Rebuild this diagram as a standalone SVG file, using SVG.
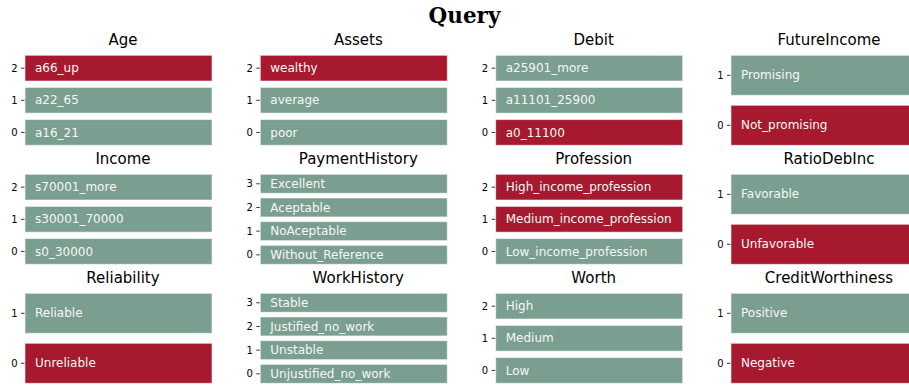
<svg xmlns="http://www.w3.org/2000/svg" width="909" height="386" viewBox="0 0 909 386">
<style>
.g{fill:#7a9e8f;stroke:#ffffff;stroke-opacity:0.55;stroke-width:1}
.r{fill:#a6192e;stroke:#ffffff;stroke-opacity:0.55;stroke-width:1}
.lb{font-family:"DejaVu Sans",sans-serif;font-size:12px;fill:#f7f7f7}
.tk{font-family:"DejaVu Sans",sans-serif;font-size:10px;fill:#000;text-anchor:end}
.tm{stroke:#000;stroke-width:0.8}
.tt{font-family:"DejaVu Sans",sans-serif;font-size:15px;fill:#000;text-anchor:middle}
.hd{font-family:"DejaVu Serif",serif;font-size:21.5px;font-weight:bold;fill:#000;text-anchor:middle}
</style>
<rect width="909" height="386" fill="#ffffff"/>
<text class="hd" x="464.5" y="22.5">Query</text>

<g id="Age" transform="translate(25,55.3)">
<text class="tt" x="98" y="-10.3">Age</text>
<rect class="r" x="0" y="0" width="187" height="25.7"/>
<rect class="g" x="0" y="32.14" width="187" height="25.7"/>
<rect class="g" x="0" y="64.29" width="187" height="25.7"/>
<text class="lb" x="10" y="17.1">a66_up</text>
<text class="lb" x="10" y="49.2">a22_65</text>
<text class="lb" x="10" y="81.3">a16_21</text>
<text class="tk" x="-7.5" y="16.5">2</text><line class="tm" x1="-4" y1="12.86" x2="-0.5" y2="12.86"/>
<text class="tk" x="-7.5" y="48.6">1</text><line class="tm" x1="-4" y1="45" x2="-0.5" y2="45"/>
<text class="tk" x="-7.5" y="80.8">0</text><line class="tm" x1="-4" y1="77.14" x2="-0.5" y2="77.14"/>
</g>

<g id="Assets" transform="translate(260.3,55.3)">
<text class="tt" x="98" y="-10.3">Assets</text>
<rect class="r" x="0" y="0" width="187" height="25.7"/>
<rect class="g" x="0" y="32.14" width="187" height="25.7"/>
<rect class="g" x="0" y="64.29" width="187" height="25.7"/>
<text class="lb" x="10" y="17.1">wealthy</text>
<text class="lb" x="10" y="49.2">average</text>
<text class="lb" x="10" y="81.3">poor</text>
<text class="tk" x="-7.5" y="16.5">2</text><line class="tm" x1="-4" y1="12.86" x2="-0.5" y2="12.86"/>
<text class="tk" x="-7.5" y="48.6">1</text><line class="tm" x1="-4" y1="45" x2="-0.5" y2="45"/>
<text class="tk" x="-7.5" y="80.8">0</text><line class="tm" x1="-4" y1="77.14" x2="-0.5" y2="77.14"/>
</g>

<g id="Debit" transform="translate(495.7,55.3)">
<text class="tt" x="98" y="-10.3">Debit</text>
<rect class="g" x="0" y="0" width="187" height="25.7"/>
<rect class="g" x="0" y="32.14" width="187" height="25.7"/>
<rect class="r" x="0" y="64.29" width="187" height="25.7"/>
<text class="lb" x="10" y="17.1">a25901_more</text>
<text class="lb" x="10" y="49.2">a11101_25900</text>
<text class="lb" x="10" y="81.3">a0_11100</text>
<text class="tk" x="-7.5" y="16.5">2</text><line class="tm" x1="-4" y1="12.86" x2="-0.5" y2="12.86"/>
<text class="tk" x="-7.5" y="48.6">1</text><line class="tm" x1="-4" y1="45" x2="-0.5" y2="45"/>
<text class="tk" x="-7.5" y="80.8">0</text><line class="tm" x1="-4" y1="77.14" x2="-0.5" y2="77.14"/>
</g>

<g id="FutureIncome" transform="translate(731,55.3)">
<text class="tt" x="98" y="-10.3">FutureIncome</text>
<rect class="g" x="0" y="0" width="187" height="40"/>
<rect class="r" x="0" y="50" width="187" height="40"/>
<text class="lb" x="10" y="24.2">Promising</text>
<text class="lb" x="10" y="74.2">Not_promising</text>
<text class="tk" x="-7.5" y="23.6">1</text><line class="tm" x1="-4" y1="20" x2="-0.5" y2="20"/>
<text class="tk" x="-7.5" y="73.6">0</text><line class="tm" x1="-4" y1="70" x2="-0.5" y2="70"/>
</g>

<g id="Income" transform="translate(25,174.3)">
<text class="tt" x="98" y="-10.3">Income</text>
<rect class="g" x="0" y="0" width="187" height="25.7"/>
<rect class="g" x="0" y="32.14" width="187" height="25.7"/>
<rect class="g" x="0" y="64.29" width="187" height="25.7"/>
<text class="lb" x="10" y="17.1">s70001_more</text>
<text class="lb" x="10" y="49.2">s30001_70000</text>
<text class="lb" x="10" y="81.3">s0_30000</text>
<text class="tk" x="-7.5" y="16.5">2</text><line class="tm" x1="-4" y1="12.86" x2="-0.5" y2="12.86"/>
<text class="tk" x="-7.5" y="48.6">1</text><line class="tm" x1="-4" y1="45" x2="-0.5" y2="45"/>
<text class="tk" x="-7.5" y="80.8">0</text><line class="tm" x1="-4" y1="77.14" x2="-0.5" y2="77.14"/>
</g>

<g id="PaymentHistory" transform="translate(260.3,174.3)">
<text class="tt" x="98" y="-10.3">PaymentHistory</text>
<rect class="g" x="0" y="0" width="187" height="18.95"/>
<rect class="g" x="0" y="23.68" width="187" height="18.95"/>
<rect class="g" x="0" y="47.37" width="187" height="18.95"/>
<rect class="g" x="0" y="71.05" width="187" height="18.95"/>
<text class="lb" x="10" y="13.7">Excellent</text>
<text class="lb" x="10" y="37.4">Aceptable</text>
<text class="lb" x="10" y="61.0">NoAceptable</text>
<text class="lb" x="10" y="84.7">Without_Reference</text>
<text class="tk" x="-7.5" y="13.1">3</text><line class="tm" x1="-4" y1="9.47" x2="-0.5" y2="9.47"/>
<text class="tk" x="-7.5" y="36.8">2</text><line class="tm" x1="-4" y1="33.16" x2="-0.5" y2="33.16"/>
<text class="tk" x="-7.5" y="60.5">1</text><line class="tm" x1="-4" y1="56.84" x2="-0.5" y2="56.84"/>
<text class="tk" x="-7.5" y="84.2">0</text><line class="tm" x1="-4" y1="80.53" x2="-0.5" y2="80.53"/>
</g>

<g id="Profession" transform="translate(495.7,174.3)">
<text class="tt" x="98" y="-10.3">Profession</text>
<rect class="r" x="0" y="0" width="187" height="25.7"/>
<rect class="r" x="0" y="32.14" width="187" height="25.7"/>
<rect class="g" x="0" y="64.29" width="187" height="25.7"/>
<text class="lb" x="10" y="17.1">High_income_profession</text>
<text class="lb" x="10" y="49.2">Medium_income_profession</text>
<text class="lb" x="10" y="81.3">Low_income_profession</text>
<text class="tk" x="-7.5" y="16.5">2</text><line class="tm" x1="-4" y1="12.86" x2="-0.5" y2="12.86"/>
<text class="tk" x="-7.5" y="48.6">1</text><line class="tm" x1="-4" y1="45" x2="-0.5" y2="45"/>
<text class="tk" x="-7.5" y="80.8">0</text><line class="tm" x1="-4" y1="77.14" x2="-0.5" y2="77.14"/>
</g>

<g id="RatioDebInc" transform="translate(731,174.3)">
<text class="tt" x="98" y="-10.3">RatioDebInc</text>
<rect class="g" x="0" y="0" width="187" height="40"/>
<rect class="r" x="0" y="50" width="187" height="40"/>
<text class="lb" x="10" y="24.2">Favorable</text>
<text class="lb" x="10" y="74.2">Unfavorable</text>
<text class="tk" x="-7.5" y="23.6">1</text><line class="tm" x1="-4" y1="20" x2="-0.5" y2="20"/>
<text class="tk" x="-7.5" y="73.6">0</text><line class="tm" x1="-4" y1="70" x2="-0.5" y2="70"/>
</g>

<g id="Reliability" transform="translate(25,293.3)">
<text class="tt" x="98" y="-10.3">Reliability</text>
<rect class="g" x="0" y="0" width="187" height="40"/>
<rect class="r" x="0" y="50" width="187" height="40"/>
<text class="lb" x="10" y="24.2">Reliable</text>
<text class="lb" x="10" y="74.2">Unreliable</text>
<text class="tk" x="-7.5" y="23.6">1</text><line class="tm" x1="-4" y1="20" x2="-0.5" y2="20"/>
<text class="tk" x="-7.5" y="73.6">0</text><line class="tm" x1="-4" y1="70" x2="-0.5" y2="70"/>
</g>

<g id="WorkHistory" transform="translate(260.3,293.3)">
<text class="tt" x="98" y="-10.3">WorkHistory</text>
<rect class="g" x="0" y="0" width="187" height="18.95"/>
<rect class="g" x="0" y="23.68" width="187" height="18.95"/>
<rect class="g" x="0" y="47.37" width="187" height="18.95"/>
<rect class="g" x="0" y="71.05" width="187" height="18.95"/>
<text class="lb" x="10" y="13.7">Stable</text>
<text class="lb" x="10" y="37.4">Justified_no_work</text>
<text class="lb" x="10" y="61.0">Unstable</text>
<text class="lb" x="10" y="84.7">Unjustified_no_work</text>
<text class="tk" x="-7.5" y="13.1">3</text><line class="tm" x1="-4" y1="9.47" x2="-0.5" y2="9.47"/>
<text class="tk" x="-7.5" y="36.8">2</text><line class="tm" x1="-4" y1="33.16" x2="-0.5" y2="33.16"/>
<text class="tk" x="-7.5" y="60.5">1</text><line class="tm" x1="-4" y1="56.84" x2="-0.5" y2="56.84"/>
<text class="tk" x="-7.5" y="84.2">0</text><line class="tm" x1="-4" y1="80.53" x2="-0.5" y2="80.53"/>
</g>

<g id="Worth" transform="translate(495.7,293.3)">
<text class="tt" x="98" y="-10.3">Worth</text>
<rect class="g" x="0" y="0" width="187" height="25.7"/>
<rect class="g" x="0" y="32.14" width="187" height="25.7"/>
<rect class="g" x="0" y="64.29" width="187" height="25.7"/>
<text class="lb" x="10" y="17.1">High</text>
<text class="lb" x="10" y="49.2">Medium</text>
<text class="lb" x="10" y="81.3">Low</text>
<text class="tk" x="-7.5" y="16.5">2</text><line class="tm" x1="-4" y1="12.86" x2="-0.5" y2="12.86"/>
<text class="tk" x="-7.5" y="48.6">1</text><line class="tm" x1="-4" y1="45" x2="-0.5" y2="45"/>
<text class="tk" x="-7.5" y="80.8">0</text><line class="tm" x1="-4" y1="77.14" x2="-0.5" y2="77.14"/>
</g>

<g id="CreditWorthiness" transform="translate(731,293.3)">
<text class="tt" x="98" y="-10.3">CreditWorthiness</text>
<rect class="g" x="0" y="0" width="187" height="40"/>
<rect class="r" x="0" y="50" width="187" height="40"/>
<text class="lb" x="10" y="24.2">Positive</text>
<text class="lb" x="10" y="74.2">Negative</text>
<text class="tk" x="-7.5" y="23.6">1</text><line class="tm" x1="-4" y1="20" x2="-0.5" y2="20"/>
<text class="tk" x="-7.5" y="73.6">0</text><line class="tm" x1="-4" y1="70" x2="-0.5" y2="70"/>
</g>
</svg>
